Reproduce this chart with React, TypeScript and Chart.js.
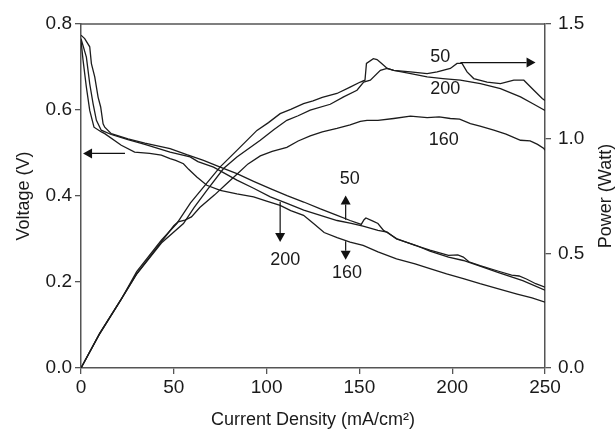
import React, { useEffect, useRef } from "react";
import { Chart, registerables } from "chart.js";

Chart.register(...registerables);

// ---- axis ticks ----
const xTickValues = [0, 50, 100, 150, 200, 250];
const voltageTicks = [0, 0.2, 0.4, 0.6, 0.8];
const powerTicks = [0, 0.5, 1.0, 1.5];

// ---- voltage curves (V) ----
const v50X = [0, 2, 4.7, 5.6, 7.4, 9.2, 10.6, 11.9, 12.8, 16.3, 25.3, 34.4, 48, 57, 66, 75, 84, 93, 102, 111, 120, 129, 138, 145, 151, 152.5, 153.5, 157, 160, 163, 165, 170, 180, 188, 198, 203, 206, 209, 215, 225, 232, 236, 240, 245, 250];
const v50Y = [0.774, 0.766, 0.747, 0.708, 0.677, 0.63, 0.607, 0.568, 0.56, 0.545, 0.533, 0.523, 0.51, 0.496, 0.483, 0.467, 0.452, 0.434, 0.417, 0.401, 0.386, 0.37, 0.355, 0.343, 0.334, 0.345, 0.349, 0.342, 0.336, 0.32, 0.315, 0.301, 0.285, 0.274, 0.262, 0.263, 0.258, 0.247, 0.238, 0.225, 0.216, 0.214, 0.207, 0.196, 0.188];

const v200X = [0, 2.9, 4.7, 6.5, 8.3, 10.9, 16.3, 25.3, 34.4, 48, 58.8, 63, 71.4, 84, 93, 102, 111, 120, 129, 138, 145, 152, 160, 165, 170, 180, 188, 198, 206, 215, 225, 238, 250];
const v200Y = [0.766, 0.723, 0.661, 0.615, 0.576, 0.553, 0.543, 0.531, 0.52, 0.502, 0.491, 0.48, 0.467, 0.437, 0.418, 0.398, 0.383, 0.367, 0.355, 0.343, 0.337, 0.33, 0.32, 0.316, 0.3, 0.286, 0.272, 0.258, 0.25, 0.237, 0.222, 0.203, 0.181];

const v160X = [0, 1.1, 2.9, 4.7, 7, 11, 12.8, 21.7, 28.9, 37, 43.3, 48, 51, 55.2, 58, 62.4, 67.8, 75, 84, 93, 100, 107.3, 113, 119.9, 125.3, 131, 138, 145, 152, 160, 170, 180, 188, 197, 206, 215, 224, 235, 243, 250];
const v160Y = [0.762, 0.716, 0.653, 0.599, 0.56, 0.549, 0.545, 0.518, 0.502, 0.499, 0.495, 0.487, 0.483, 0.475, 0.462, 0.444, 0.425, 0.413, 0.405, 0.398, 0.388, 0.378, 0.366, 0.355, 0.336, 0.315, 0.303, 0.293, 0.285, 0.27, 0.254, 0.242, 0.231, 0.219, 0.208, 0.196, 0.185, 0.172, 0.163, 0.153];

// ---- power curves (W) ----
const p50X = [0, 10, 21.7, 30, 43.3, 51.6, 59, 66, 75, 84, 94.8, 101, 107.3, 113, 119.9, 125, 130, 137.9, 145, 150.5, 153, 153.8, 157.5, 159.5, 162, 165, 168.5, 177.5, 186.5, 191.9, 199, 202.6, 205.3, 208, 211.6, 218.8, 226, 233.2, 238.6, 244, 248.5, 250];
const p50Y = [0, 0.15, 0.3, 0.42, 0.557, 0.63, 0.72, 0.789, 0.877, 0.949, 1.036, 1.07, 1.109, 1.128, 1.153, 1.165, 1.18, 1.197, 1.225, 1.247, 1.255, 1.328, 1.349, 1.345, 1.328, 1.306, 1.298, 1.291, 1.284, 1.291, 1.306, 1.328, 1.328, 1.291, 1.262, 1.247, 1.24, 1.255, 1.255, 1.211, 1.175, 1.166];

const p200X = [0, 10, 21.7, 30, 43.3, 55.2, 61, 67.8, 76.8, 84, 96.6, 104, 110.9, 117, 123.5, 134.3, 141.5, 148.7, 152.3, 155.9, 161.3, 164.9, 168.5, 177, 186.5, 195, 204.4, 215.2, 226, 236.8, 244, 250];
const p200Y = [0, 0.148, 0.3, 0.41, 0.545, 0.63, 0.7, 0.775, 0.87, 0.92, 0.993, 1.04, 1.08, 1.1, 1.124, 1.15, 1.182, 1.211, 1.247, 1.255, 1.298, 1.306, 1.298, 1.285, 1.269, 1.262, 1.255, 1.24, 1.218, 1.182, 1.15, 1.123];

const p160X = [0, 10, 21.7, 30, 43.3, 50, 52.3, 56, 59.5, 64, 72, 78, 84, 90, 96.6, 103, 110.9, 117, 123.5, 130, 137.9, 145, 150.5, 154.1, 160, 168.5, 177.5, 186.5, 193, 199, 204, 209.8, 215, 222.4, 229, 236.8, 242, 246, 249.4, 250];
const p160Y = [0, 0.15, 0.3, 0.41, 0.55, 0.62, 0.637, 0.645, 0.659, 0.7, 0.755, 0.8, 0.845, 0.89, 0.925, 0.945, 0.962, 0.99, 1.012, 1.03, 1.045, 1.06, 1.075, 1.08, 1.08, 1.088, 1.098, 1.092, 1.095, 1.088, 1.085, 1.066, 1.055, 1.037, 1.02, 0.993, 0.99, 0.975, 0.957, 0.95];

// ---- annotations (data units) ----
const arrowAxis = ["y", "y1", "y", "y", "y"];
const arrowFromX = [23.7, 204.4, 142.6, 142.6, 107.3];
const arrowFromY = [0.499, 1.332, 0.345, 0.295, 0.386];
const arrowToX = [1.1, 244.9, 142.6, 142.6, 107.3];
const arrowToY = [0.499, 1.332, 0.401, 0.252, 0.293];

const labelText = ["50", "200", "160", "50", "160", "200"];
const labelAxis = ["y1", "y1", "y1", "y", "y", "y"];
const labelX = [193.6, 196.3, 195.4, 144.8, 143.3, 110];
const labelY = [1.356, 1.215, 0.993, 0.439, 0.221, 0.252];

const FONT = "'Liberation Sans', Arial, Helvetica, sans-serif";
const LINE = "#1c1c1c";
const AXIS = "#555";

const pts = (xs: number[], ys: number[]) => xs.map((x, i) => ({ x, y: ys[i] }));

const decorPlugin = {
  id: "decor",
  afterDatasetsDraw(chart: any) {
    const { ctx, chartArea, scales } = chart;
    ctx.save();
    // top frame line
    ctx.strokeStyle = AXIS;
    ctx.lineWidth = 1.5;
    ctx.beginPath();
    ctx.moveTo(chartArea.left, chartArea.top);
    ctx.lineTo(chartArea.right, chartArea.top);
    ctx.stroke();

    // arrows
    ctx.strokeStyle = "#111";
    ctx.fillStyle = "#111";
    ctx.lineWidth = 1.2;
    for (let i = 0; i < arrowAxis.length; i++) {
      const ys = scales[arrowAxis[i]];
      const x0 = scales.x.getPixelForValue(arrowFromX[i]);
      const y0 = ys.getPixelForValue(arrowFromY[i]);
      const x1 = scales.x.getPixelForValue(arrowToX[i]);
      const y1 = ys.getPixelForValue(arrowToY[i]);
      const ang = Math.atan2(y1 - y0, x1 - x0);
      const len = 9;
      const hw = 5;
      const bx = x1 - len * Math.cos(ang);
      const by = y1 - len * Math.sin(ang);
      ctx.beginPath();
      ctx.moveTo(x0, y0);
      ctx.lineTo(bx, by);
      ctx.stroke();
      ctx.beginPath();
      ctx.moveTo(x1, y1);
      ctx.lineTo(bx + hw * Math.sin(ang), by - hw * Math.cos(ang));
      ctx.lineTo(bx - hw * Math.sin(ang), by + hw * Math.cos(ang));
      ctx.closePath();
      ctx.fill();
    }

    // labels
    ctx.font = `18px ${FONT}`;
    ctx.fillStyle = "#1a1a1a";
    ctx.textAlign = "center";
    ctx.textBaseline = "middle";
    for (let i = 0; i < labelText.length; i++) {
      const ys = scales[labelAxis[i]];
      ctx.fillText(labelText[i], scales.x.getPixelForValue(labelX[i]), ys.getPixelForValue(labelY[i]));
    }

    // right axis title (reads bottom-to-top)
    const cy = (chartArea.top + chartArea.bottom) / 2;
    ctx.translate(606, cy);
    ctx.rotate(-Math.PI / 2);
    ctx.fillText("Power (Watt)", 0, 0);
    ctx.restore();
  },
};

export default function App() {
  const ref = useRef<HTMLCanvasElement | null>(null);

  useEffect(() => {
    if (!ref.current) return;
    const mk = (xs: number[], ys: number[], axis: string, label: string) => ({
      label,
      data: pts(xs, ys),
      yAxisID: axis,
      borderColor: LINE,
      borderWidth: 1.3,
      pointRadius: 0,
      tension: 0,
      fill: false,
    });
    const tickFont = { family: FONT, size: 19 };
    const chart = new Chart(ref.current, {
      type: "line",
      data: {
        datasets: [
          mk(v50X, v50Y, "y", "Voltage 50"),
          mk(v200X, v200Y, "y", "Voltage 200"),
          mk(v160X, v160Y, "y", "Voltage 160"),
          mk(p50X, p50Y, "y1", "Power 50"),
          mk(p200X, p200Y, "y1", "Power 200"),
          mk(p160X, p160Y, "y1", "Power 160"),
        ],
      },
      options: {
        animation: false,
        responsive: true,
        maintainAspectRatio: false,
        devicePixelRatio: 1,
        layout: { padding: { top: 24, left: 0, right: 0, bottom: 0 } },
        plugins: { legend: { display: false }, tooltip: { enabled: false } },
        scales: {
          x: {
            type: "linear",
            position: "bottom",
            min: 0,
            max: 250,
            afterBuildTicks: (s: any) => {
              s.ticks = xTickValues.map((v) => ({ value: v }));
            },
            afterFit: (s: any) => {
              s.height = 63;
            },
            ticks: { font: tickFont, color: "#1a1a1a", padding: 2, maxRotation: 0 },
            grid: { drawOnChartArea: false, drawTicks: true, tickLength: 6, color: AXIS, lineWidth: 1.3 },
            border: { display: true, color: AXIS, width: 1.5 },
            title: {
              display: true,
              text: "Current Density (mA/cm²)",
              font: { family: FONT, size: 18 },
              color: "#1a1a1a",
              padding: { top: 0, bottom: 0 },
            },
          },
          y: {
            type: "linear",
            position: "left",
            min: 0,
            max: 0.8,
            afterBuildTicks: (s: any) => {
              s.ticks = voltageTicks.map((v) => ({ value: v }));
            },
            afterFit: (s: any) => {
              s.width = 81;
            },
            ticks: {
              font: tickFont,
              color: "#1a1a1a",
              padding: 3,
              callback: (v: any) => Number(v).toFixed(1),
            },
            grid: { drawOnChartArea: false, drawTicks: true, tickLength: 6, color: AXIS, lineWidth: 1.3 },
            border: { display: true, color: AXIS, width: 1.5 },
            title: {
              display: true,
              text: "Voltage (V)",
              font: { family: FONT, size: 18 },
              color: "#1a1a1a",
              padding: { top: 13, bottom: 0 },
            },
          },
          y1: {
            type: "linear",
            position: "right",
            min: 0,
            max: 1.5,
            afterBuildTicks: (s: any) => {
              s.ticks = powerTicks.map((v) => ({ value: v }));
            },
            afterFit: (s: any) => {
              s.width = 71;
            },
            ticks: {
              font: tickFont,
              color: "#1a1a1a",
              padding: 7,
              callback: (v: any) => Number(v).toFixed(1),
            },
            grid: { drawOnChartArea: false, drawTicks: true, tickLength: 6, color: AXIS, lineWidth: 1.3 },
            border: { display: true, color: AXIS, width: 1.5 },
            title: { display: false },
          },
        },
      } as any,
      plugins: [decorPlugin],
    });
    return () => chart.destroy();
  }, []);

  return (
    <div style={{ position: "fixed", left: 0, top: 0, width: 616, height: 431, background: "#fff" }}>
      <canvas ref={ref} />
    </div>
  );
}
